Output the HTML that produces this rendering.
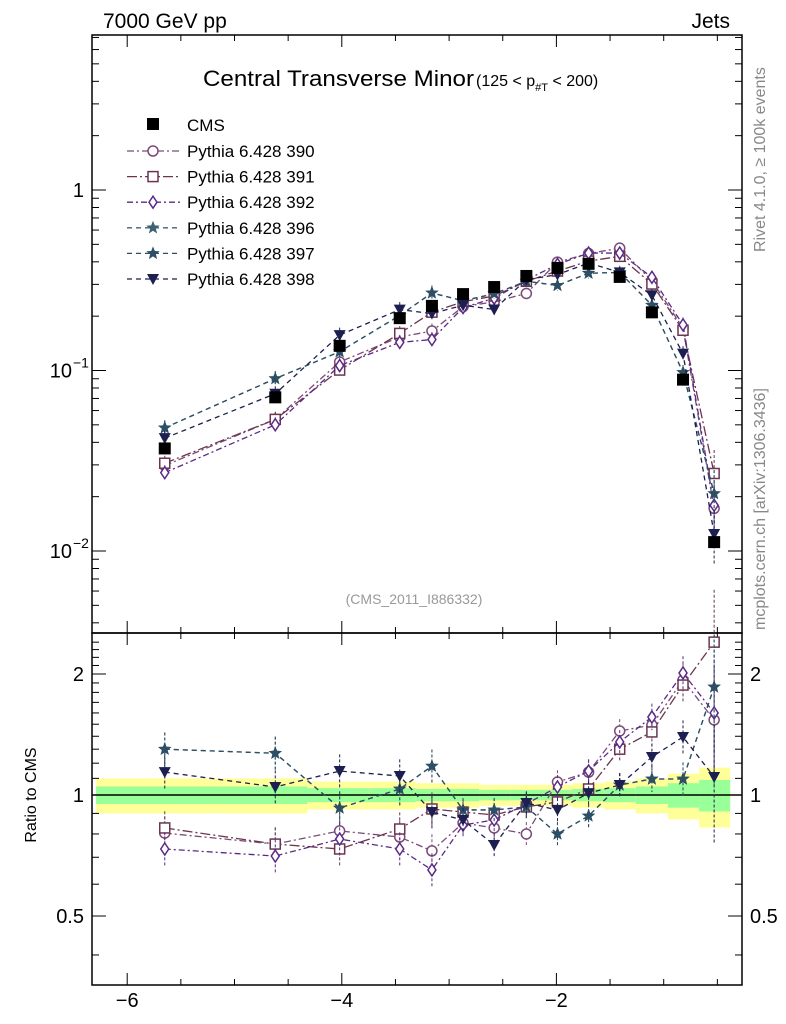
<!DOCTYPE html>
<html><head><meta charset="utf-8"><style>
body{margin:0;background:#fff;}
svg{display:block;font-family:"Liberation Sans",sans-serif;}
</style></head><body>
<svg id="c" width="786" height="1024" xmlns="http://www.w3.org/2000/svg"></svg>
<script>
const xVals=[-5.65,-4.62,-4.02,-3.46,-3.16,-2.87,-2.58,-2.28,-1.99,-1.70,-1.41,-1.11,-0.82,-0.53];
const binEdges=[-6.29,-5.13,-4.32,-3.74,-3.31,-3.01,-2.72,-2.43,-2.13,-1.85,-1.55,-1.26,-0.96,-0.67,-0.38];
const cms=[0.037,0.071,0.137,0.195,0.228,0.265,0.29,0.334,0.37,0.39,0.33,0.21,0.089,0.0112];
const bandYellow=[0.10,0.10,0.08,0.08,0.07,0.07,0.06,0.06,0.06,0.07,0.08,0.10,0.13,0.17];
const bandGreen=[0.05,0.05,0.04,0.04,0.035,0.035,0.03,0.03,0.03,0.035,0.04,0.05,0.07,0.09];
const r390=[0.804,0.755,0.814,0.786,0.726,0.852,0.828,0.80,1.077,1.14,1.443,1.493,1.932,1.537];
const r391=[0.828,0.755,0.734,0.823,0.923,0.907,0.892,0.934,0.961,1.035,1.30,1.435,1.877,2.40];
const r392=[0.734,0.705,0.777,0.734,0.651,0.842,0.867,0.95,1.047,1.147,1.355,1.563,2.012,1.6];
const r396=[1.30,1.27,0.928,1.035,1.18,0.918,0.918,0.934,0.80,0.887,1.059,1.096,1.096,1.857];
const r397=[1.30,1.27,0.928,1.035,1.18,0.918,0.918,0.934,0.80,0.887,1.059,1.096,1.096,1.857];
const r398=[1.14,1.047,1.147,1.115,0.907,0.867,0.751,0.955,0.918,1.011,1.059,1.243,1.394,1.109];
const relErr=[0.1,0.1,0.1,0.1,0.1,0.07,0.07,0.07,0.07,0.07,0.07,0.08,0.1,0.35];
const seriesNames=["Pythia 6.428 390","Pythia 6.428 391","Pythia 6.428 392","Pythia 6.428 396","Pythia 6.428 397","Pythia 6.428 398"];

const NS="http://www.w3.org/2000/svg";const svg=document.getElementById('c');
function el(t,a,p){const e=document.createElementNS(NS,t);for(const k in a)e.setAttribute(k,a[k]);(p||svg).appendChild(e);return e;}
const L=92,R=742,T=35,MB=633,RB=985;
const X=v=>771+v*107.3;
const YM=v=>190-Math.log10(v)*180.5;
const YR=v=>795-Math.log10(v)*402;

for(let i=0;i<cms.length;i++){
 const x0=X(binEdges[i]),x1=X(binEdges[i+1]);
 let e=el('rect',{x:x0,y:YR(1+bandYellow[i]),width:x1-x0,height:YR(1-bandYellow[i])-YR(1+bandYellow[i]),fill:'#ffff99'});
 
 e=el('rect',{x:x0,y:YR(1+bandGreen[i]),width:x1-x0,height:YR(1-bandGreen[i])-YR(1+bandGreen[i]),fill:'#99ff99'});
 
}
el('line',{x1:L,x2:R,y1:YR(1),y2:YR(1),stroke:'#000','stroke-width':1.5});

let f=el('rect',{x:L,y:T,width:R-L,height:MB-T,fill:'none',stroke:'#000','stroke-width':1.5});

f=el('rect',{x:L,y:MB,width:R-L,height:RB-MB,fill:'none',stroke:'#000','stroke-width':1.5});


for(let v=-6;v<=-0.4;v+=0.5){const maj=Math.abs(v-Math.round(v/2)*2)<1e-6;const h=maj?12:6;const x=X(v);
 [T,MB].forEach(t=>el('line',{x1:x,x2:x,y1:t,y2:t+h,stroke:'#000'}));
 [MB,RB].forEach(b=>el('line',{x1:x,x2:x,y1:b,y2:b-h,stroke:'#000'}));
 if(maj){const t=el('text',{x:x,y:1007,'text-anchor':'middle','font-size':20});t.textContent='\u2212'+(-v);
 }}
for(let d=-3;d<=0;d++)for(let m=1;m<10;m++){const v=m*Math.pow(10,d);const y=YM(v);if(y<T||y>MB)continue;const h=m==1?14:7;
 el('line',{x1:L,x2:L+h,y1:y,y2:y,stroke:'#000'});el('line',{x1:R,x2:R-h,y1:y,y2:y,stroke:'#000'});}
[[1,'1'],[0.1,'10'],[0.01,'10']].forEach(([v,s],i)=>{const t=el('text',{x:i?72:84,y:YM(v)+7,'text-anchor':'end','font-size':20});t.textContent=s;
 
 if(i){const s2=el('text',{x:73,y:YM(v)-3,'font-size':14});s2.textContent='\u2212'+i;}});
for(let v=0.4;v<=2.5;v+=0.1){const y=YR(v);if(y<MB||y>RB)continue;const maj=[0.5,1,2].some(q=>Math.abs(q-v)<1e-6);const h=maj?14:7;
 el('line',{x1:L,x2:L+h,y1:y,y2:y,stroke:'#000'});el('line',{x1:R,x2:R-h,y1:y,y2:y,stroke:'#000'});}
[[2,'2'],[1,'1'],[0.5,'0.5']].forEach(([v,s])=>{let t=el('text',{x:84,y:YR(v)+7,'text-anchor':'end','font-size':20});t.textContent=s;
 
 t=el('text',{x:750,y:YR(v)+7,'font-size':20});t.textContent=s;});

const styles=[
 {r:r390,c:'#7a4a78',dash:'7,3,2,3',m:'circle'},
 {r:r391,c:'#6b3550',dash:'10,3,2,3',m:'square'},
 {r:r392,c:'#5b2a86',dash:'6,3,2,3',m:'diamond'},
 {r:r396,c:'#3f6272',dash:'5,4',m:'star'},
 {r:r397,c:'#2d4f66',dash:'5,4',m:'star'},
 {r:r398,c:'#1c1f4f',dash:'5,4',m:'tri'}];
function marker(type,x,y,c,g,name){let e;
 if(type=='circle')e=el('circle',{cx:x,cy:y,r:5,fill:'#fff',stroke:c,'stroke-width':1.5},g);
 else if(type=='square')e=el('rect',{x:x-5,y:y-5,width:10,height:10,fill:'#fff',stroke:c,'stroke-width':1.5},g);
 else if(type=='diamond')e=el('polygon',{points:`${x},${y-6} ${x+4},${y} ${x},${y+6} ${x-4},${y}`,fill:'#fff',stroke:c,'stroke-width':1.5},g);
 else if(type=='star'){let p=[];for(let k=0;k<10;k++){const a=-Math.PI/2+k*Math.PI/5,rr=k%2?3:7;p.push((x+rr*Math.cos(a)).toFixed(1)+','+(y+rr*Math.sin(a)).toFixed(1));}
  e=el('polygon',{points:p.join(' '),fill:c},g);}
 else if(type=='tri')e=el('polygon',{points:`${x-6},${y-5} ${x+6},${y-5} ${x},${y+6}`,fill:c},g);
 else e=el('rect',{x:x-6,y:y-6,width:12,height:12,fill:'#000'},g);
 }
styles.forEach((s,si)=>{
 const g=el('g',{});
 const vals=s.r.map((r,i)=>r*cms[i]);
 el('polyline',{points:vals.map((v,i)=>X(xVals[i])+','+YM(v)).join(' '),fill:'none',stroke:s.c,'stroke-width':1.3,'stroke-dasharray':s.dash},g);
 el('polyline',{points:s.r.map((v,i)=>X(xVals[i])+','+YR(v)).join(' '),fill:'none',stroke:s.c,'stroke-width':1.3,'stroke-dasharray':s.dash},g);
 vals.forEach((v,i)=>{const x=X(xVals[i]);const e=relErr[i];
  el('line',{x1:x,x2:x,y1:YM(v*(1+e)),y2:YM(v*(1-e*0.9)),stroke:s.c,'stroke-dasharray':'3,2'},g);
  el('line',{x1:x,x2:x,y1:YR(s.r[i]*(1+e)),y2:YR(s.r[i]*(1-e*0.9)),stroke:s.c,'stroke-dasharray':'3,2'},g);
  marker(s.m,x,YM(v),s.c,g,'model-point');marker(s.m,x,YR(s.r[i]),s.c,g,'ratio-point');});
});
cms.forEach((v,i)=>marker('cms',X(xVals[i]),YM(v),'#000',svg,'cms-point'));

const lg=el('g',{});
marker('cms',153,124,'#000',lg,'legend-marker-cms');
let t=el('text',{x:187,y:131,'font-size':17},lg);t.textContent='CMS';
styles.forEach((s,i)=>{const y=151+i*25.6;
 el('line',{x1:127,x2:180,y1:y,y2:y,stroke:s.c,'stroke-width':1.3,'stroke-dasharray':s.dash},lg);
 marker(s.m,153,y,s.c,lg,'legend-marker');
 const tt=el('text',{x:187,y:y+6,'font-size':17},lg);tt.textContent=seriesNames[i];
 });

function txt(s,a,name){const e=el('text',a);e.textContent=s;return e;}
txt('7000 GeV pp',{x:103,y:28,'font-size':21},'energy-label');
txt('Jets',{x:730,y:28,'font-size':21,'text-anchor':'end'},'process-label');
txt('Central Transverse Minor',{x:203,y:86,'font-size':22,textLength:271,lengthAdjust:'spacingAndGlyphs'},'chart-title');
const sub=el('text',{x:476,y:86,'font-size':16});sub.innerHTML='(125 &lt; p<tspan font-size="11" dy="5">#T</tspan><tspan dy="-5">  &lt; 200)</tspan>';

txt('(CMS_2011_I886332)',{x:414,y:604,'font-size':14,fill:'#999','text-anchor':'middle'},'analysis-id');
txt('Ratio to CMS',{x:0,y:0,'font-size':16,transform:'translate(36,795) rotate(-90)','text-anchor':'middle'},'y-axis-title');
txt('Rivet 4.1.0, \u2265 100k events',{x:0,y:0,'font-size':16,fill:'#888',transform:'translate(765,252) rotate(-90)'},'rivet-label');
txt('mcplots.cern.ch [arXiv:1306.3436]',{x:0,y:0,'font-size':16,fill:'#888',transform:'translate(765,630) rotate(-90)'},'mcplots-label');
</script></body></html>
